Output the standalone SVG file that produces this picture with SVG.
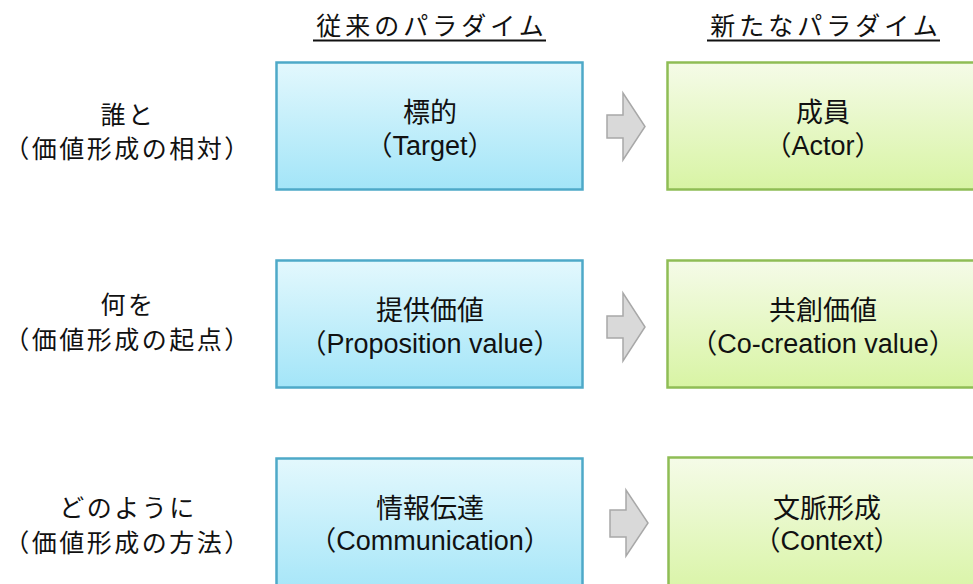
<svg xmlns="http://www.w3.org/2000/svg" width="973" height="584" viewBox="0 0 973 584">
<defs>
<linearGradient id="gBlue" x1="0" y1="0" x2="0" y2="1">
<stop offset="0" stop-color="#e3f8fd"/>
<stop offset="1" stop-color="#a3e5f8"/>
</linearGradient>
<linearGradient id="gGreen" x1="0" y1="0" x2="0" y2="1">
<stop offset="0" stop-color="#f5fbe8"/>
<stop offset="1" stop-color="#d8f4a4"/>
</linearGradient>
</defs>
<style>
text{font-family:"Liberation Sans","Noto Sans CJK JP",sans-serif;fill:#111;text-anchor:middle}
.hdr{font-size:25px;letter-spacing:4px}
.lbl{font-size:25px;letter-spacing:2.5px}
.box{font-size:27px}
.blue{fill:url(#gBlue);stroke:#4ea9c8;stroke-width:2.5}
.green{fill:url(#gGreen);stroke:#8fbd55;stroke-width:2.5}
.arr{fill:#d9d9d9;stroke:#a8a8a8;stroke-width:1.5}
.ul{stroke:#111;stroke-width:1.8}
</style>
<g id="headers">
<text class="hdr" x="432" y="35">従来のパラダイム</text>
<line class="ul" x1="313" y1="40.5" x2="546" y2="40.5"/>
<text class="hdr" x="826" y="35">新たなパラダイム</text>
<line class="ul" x1="707" y1="40.5" x2="940" y2="40.5"/>
</g>
<g id="label1">
<text class="lbl" x="128" y="124">誰と</text>
<text class="lbl" x="128" y="158">（価値形成の相対）</text>
</g>
<g id="label2">
<text class="lbl" x="128" y="314">何を</text>
<text class="lbl" x="128" y="349">（価値形成の起点）</text>
</g>
<g id="label3">
<text class="lbl" x="128" y="517">どのように</text>
<text class="lbl" x="128" y="552">（価値形成の方法）</text>
</g>
<g id="old1">
<rect class="blue" x="276.5" y="62.5" width="306" height="127"/>
<text class="box" x="430" y="122">標的</text>
<text class="box" x="430" y="155">（Target）</text>
</g>
<g id="old2">
<rect class="blue" x="276.5" y="260.5" width="306" height="127"/>
<text class="box" x="430" y="320">提供価値</text>
<text class="box" x="430" y="353">（Proposition value）</text>
</g>
<g id="old3">
<rect class="blue" x="276.5" y="458.5" width="306" height="140"/>
<text class="box" x="430" y="518">情報伝達</text>
<text class="box" x="430" y="550">（Communication）</text>
</g>
<g id="new1">
<rect class="green" x="667.5" y="62.5" width="320" height="127"/>
<text class="box" x="823" y="122">成員</text>
<text class="box" x="823" y="155">（Actor）</text>
</g>
<g id="new2">
<rect class="green" x="667.5" y="260.5" width="320" height="127"/>
<text class="box" x="823" y="320">共創価値</text>
<text class="box" x="823" y="353">（Co-creation value）</text>
</g>
<g id="new3">
<rect class="green" x="668.5" y="457.5" width="320" height="140"/>
<text class="box" x="827" y="518">文脈形成</text>
<text class="box" x="827" y="550">（Context）</text>
</g>
<g id="connectors">
<path class="arr" d="M607,115 H623 V93 L645,126.5 L623,160 V138 H607 Z"/>
<path class="arr" d="M607,316 H623 V293 L645,327 L623,361 V338 H607 Z"/>
<path class="arr" d="M610,510 H626 V490 L648,523 L626,556 V537 H610 Z"/>
</g>
</svg>
